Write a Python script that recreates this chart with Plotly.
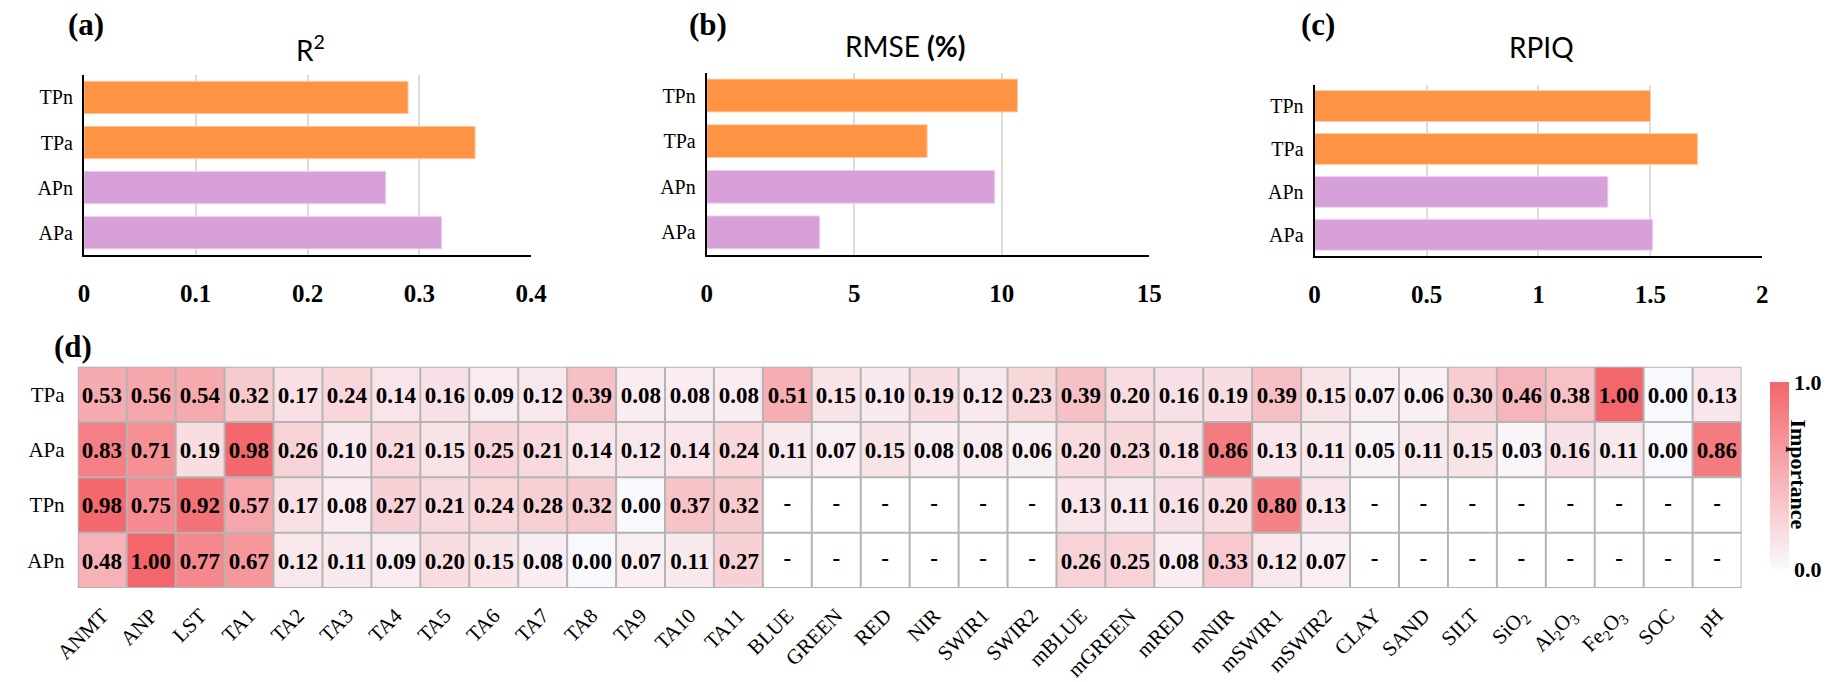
import plotly.graph_objects as go

# ---------------- data ----------------
models = ["TPn", "TPa", "APn", "APa"]
model_colors = ["#FD9343", "#FD9343", "#D8A0D8", "#D8A0D8"]
model_edges = ["#FDCFA8", "#FDCFA8", "#EED2EE", "#EED2EE"]

r2 = [0.29, 0.35, 0.27, 0.32]
rmse = [10.53, 7.47, 9.76, 3.83]
rpiq = [1.50, 1.71, 1.31, 1.51]

heat_rows = ["TPa", "APa", "TPn", "APn"]
features = ["ANMT", "ANP", "LST", "TA1", "TA2", "TA3", "TA4", "TA5", "TA6", "TA7",
            "TA8", "TA9", "TA10", "TA11", "BLUE", "GREEN", "RED", "NIR", "SWIR1",
            "SWIR2", "mBLUE", "mGREEN", "mRED", "mNIR", "mSWIR1", "mSWIR2", "CLAY",
            "SAND", "SILT", "SiO2", "Al2O3", "Fe2O3", "SOC", "pH"]
feature_labels = ["ANMT", "ANP", "LST", "TA1", "TA2", "TA3", "TA4", "TA5", "TA6", "TA7",
                  "TA8", "TA9", "TA10", "TA11", "BLUE", "GREEN", "RED", "NIR", "SWIR1",
                  "SWIR2", "mBLUE", "mGREEN", "mRED", "mNIR", "mSWIR1", "mSWIR2", "CLAY",
                  "SAND", "SILT", "SiO<sub>2</sub>", "Al<sub>2</sub>O<sub>3</sub>",
                  "Fe<sub>2</sub>O<sub>3</sub>", "SOC", "pH"]

N = None
imp_TPa = [0.53, 0.56, 0.54, 0.32, 0.17, 0.24, 0.14, 0.16, 0.09, 0.12, 0.39, 0.08, 0.08, 0.08,
           0.51, 0.15, 0.10, 0.19, 0.12, 0.23,
           0.39, 0.20, 0.16, 0.19, 0.39, 0.15,
           0.07, 0.06, 0.30, 0.46, 0.38, 1.00, 0.00, 0.13]
imp_APa = [0.83, 0.71, 0.19, 0.98, 0.26, 0.10, 0.21, 0.15, 0.25, 0.21, 0.14, 0.12, 0.14, 0.24,
           0.11, 0.07, 0.15, 0.08, 0.08, 0.06,
           0.20, 0.23, 0.18, 0.86, 0.13, 0.11,
           0.05, 0.11, 0.15, 0.03, 0.16, 0.11, 0.00, 0.86]
imp_TPn = [0.98, 0.75, 0.92, 0.57, 0.17, 0.08, 0.27, 0.21, 0.24, 0.28, 0.32, 0.00, 0.37, 0.32,
           N, N, N, N, N, N,
           0.13, 0.11, 0.16, 0.20, 0.80, 0.13,
           N, N, N, N, N, N, N, N]
imp_APn = [0.48, 1.00, 0.77, 0.67, 0.12, 0.11, 0.09, 0.20, 0.15, 0.08, 0.00, 0.07, 0.11, 0.27,
           N, N, N, N, N, N,
           0.26, 0.25, 0.08, 0.33, 0.12, 0.07,
           N, N, N, N, N, N, N, N]
importance = [imp_TPa, imp_APa, imp_TPn, imp_APn]

# ---------------- layout helpers ----------------
W, H = 1838, 682
SERIF = "Liberation Serif, Times New Roman, serif"
SANS = "Lato, Open Sans, sans-serif"


def px_x(a, b):
    return [a / W, b / W]


def px_y(top, bottom):
    return [1 - bottom / H, 1 - top / H]


fig = go.Figure()

# ---------------- bar panels ----------------
panels = [
    ("x", "y", r2, [0, 0.4], 0.1, px_x(60.3, 517.6), px_y(77.3, 263.3)),
    ("x2", "y2", rmse, [0, 15], 5, px_x(697.3, 1150), px_y(75, 263.3)),
    ("x3", "y3", rpiq, [0, 2], 0.5, px_x(1319, 1777), px_y(87.3, 264.3)),
]

for i, (xa, ya, vals, rng, dt, xdom, ydom) in enumerate(panels, start=1):
    fig.add_trace(go.Bar(
        x=vals, y=models, orientation="h", xaxis=xa, yaxis=ya,
        marker=dict(color=model_colors, line=dict(width=1, color=model_edges)),
        width=0.72, showlegend=False, hoverinfo="x+y",
    ))
    sfx = "" if i == 1 else str(i)
    fig.layout["xaxis" + sfx] = dict(
        domain=xdom, anchor=ya, range=rng, dtick=dt, tick0=0,
        showgrid=True, gridcolor="#dcdcdc", gridwidth=2, zeroline=False,
        showline=True, linecolor="black", linewidth=2,
        ticks="outside", ticklen=15, tickcolor="rgba(0,0,0,0)",
        tickfont=dict(family=SERIF, size=25, color="black", weight="bold"),
        fixedrange=True,
    )
    fig.layout["yaxis" + sfx] = dict(
        domain=ydom, anchor=xa, autorange="reversed", type="category",
        showgrid=False, showline=True, linecolor="black", linewidth=2,
        ticks="outside", ticklen=5, tickcolor="rgba(0,0,0,0)",
        tickfont=dict(family=SERIF, size=20, color="black"),
        fixedrange=True,
    )

# ---------------- importance heatmap ----------------
cell_text = [["" if v is None else f"{v:.2f}" for v in row] for row in importance]

fig.add_trace(go.Heatmap(
    z=importance, x=features, y=heat_rows, xaxis="x4", yaxis="y4",
    zmin=0, zmax=1,
    colorscale=[[0, "#f9f9fd"], [1, "#f3666b"]],
    text=cell_text, texttemplate="%{text}",
    textfont=dict(family=SERIF, size=23, color="black", weight="bold"),
    hoverongaps=False,
    colorbar=dict(
        x=1775 / W, xanchor="left", y=1 - 490.5 / H, yanchor="middle",
        len=207, lenmode="pixels", thickness=19, thicknessmode="pixels",
        outlinewidth=0, tickvals=[0, 1], tickformat=".1f", ticks="",
        tickfont=dict(family=SERIF, size=22, color="black", weight="bold"),
    ),
))

# dashes for features not used by a model
miss_x, miss_y = [], []
for r, row in zip(heat_rows, importance):
    for f, v in zip(features, row):
        if v is None:
            miss_x.append(f)
            miss_y.append(r)
fig.add_trace(go.Scatter(
    x=miss_x, y=miss_y, mode="text", text=["-"] * len(miss_x),
    textfont=dict(family=SERIF, size=23, color="black", weight="bold"),
    xaxis="x4", yaxis="y4", showlegend=False, hoverinfo="skip",
))

fig.layout["xaxis4"] = dict(
    domain=px_x(54, 1755.7), anchor="y4", type="category",
    categoryorder="array", categoryarray=features,
    range=[-0.5, len(features) - 0.5],
    tickmode="array", tickvals=features, ticktext=feature_labels,
    tickangle=-45, showgrid=False, zeroline=False, showline=False,
    ticks="outside", ticklen=6, tickcolor="rgba(0,0,0,0)",
    tickfont=dict(family=SERIF, size=21, color="black"),
    fixedrange=True,
)
fig.layout["yaxis4"] = dict(
    domain=px_y(378.3, 606.7), anchor="x4", type="category",
    categoryorder="array", categoryarray=heat_rows,
    range=[len(heat_rows) - 0.5, -0.5],
    showgrid=False, zeroline=False, showline=False,
    ticks="outside", ticklen=8, tickcolor="rgba(0,0,0,0)",
    tickfont=dict(family=SERIF, size=21, color="black"),
    fixedrange=True,
)

# cell borders
grid_line = dict(color="#b4b4b4", width=2)
shapes = []
for k in range(len(features) + 1):
    shapes.append(dict(type="line", xref="x4", yref="y4", layer="above",
                       x0=k - 0.5, x1=k - 0.5, y0=-0.5, y1=len(heat_rows) - 0.5,
                       line=grid_line))
for k in range(len(heat_rows) + 1):
    shapes.append(dict(type="line", xref="x4", yref="y4", layer="above",
                       x0=-0.5, x1=len(features) - 0.5, y0=k - 0.5, y1=k - 0.5,
                       line=grid_line))

# ---------------- text ----------------
def note(text, x, y, font, angle=0):
    return dict(text=text, x=x / W, y=1 - y / H, xref="paper", yref="paper",
                showarrow=False, xanchor="center", yanchor="middle",
                textangle=angle, font=font)


panel_font = dict(family=SERIF, size=31, color="black", weight="bold")
title_font = dict(family=SANS, size=28, color="black")

annotations = [
    note("(a)", 62, 25, panel_font),
    note("(b)", 699, 25, panel_font),
    note("(c)", 1323, 25, panel_font),
    note("(d)", 49, 358, panel_font),
    note("R<sup>2</sup>", 291.7, 50, title_font),
    note("RMSE <b>(%)</b>", 900, 47, title_font),
    note("RPIQ", 1551, 49, title_font),
    note("Importance", 1814, 489,
         dict(family=SERIF, size=22, color="black", weight="bold"), angle=90),
]

fig.update_layout(
    width=W, height=H, autosize=False,
    margin=dict(l=0, r=0, t=0, b=0, pad=0),
    paper_bgcolor="white", plot_bgcolor="white",
    font=dict(family=SERIF, color="black"),
    shapes=shapes, annotations=annotations, showlegend=False,
)

fig.write_html("out.html", config={"displayModeBar": False})
